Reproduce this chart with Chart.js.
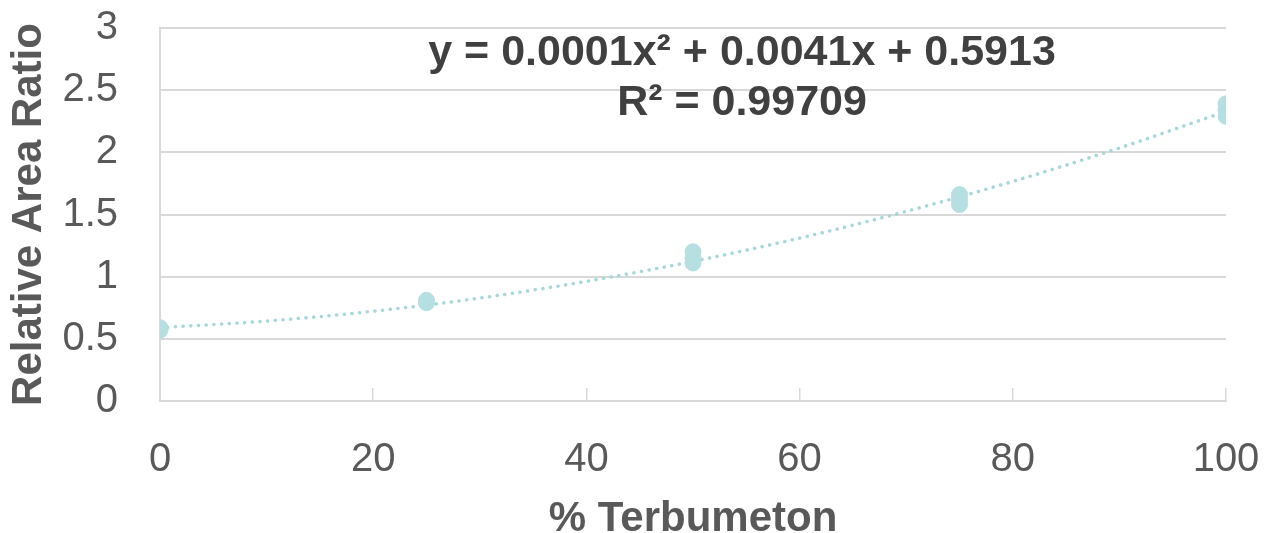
<!DOCTYPE html>
<html>
<head>
<meta charset="utf-8">
<title>Relative Area Ratio vs % Terbumeton</title>
<script src="https://cdn.jsdelivr.net/npm/chart.js@4/dist/chart.umd.min.js"></script>
<style>
  html, body { margin: 0; padding: 0; background: #fff; }
  #wrap { width: 1264px; height: 533px; }
</style>
</head>
<body>
<div id="wrap"><canvas id="calChart" width="1264" height="533"></canvas></div>
<script>
/* ─── DATA ─── */
// three replicate injections per calibration level
const levels = [0, 0, 0, 25, 25, 25, 50, 50, 50, 75, 75, 75, 100, 100, 100];
const ratios = [0.57, 0.58, 0.59, 0.79, 0.80, 0.81, 1.11, 1.15, 1.20, 1.58, 1.62, 1.66, 2.29, 2.34, 2.39];

// polynomial trendline as drawn
const trendX = [0, 10, 20, 30, 40, 50, 60, 70, 80, 90, 100];
const trendY = [0.59, 0.643, 0.722, 0.828, 0.962, 1.123, 1.310, 1.525, 1.766, 2.035, 2.33];

const xTicks = [0, 20, 40, 60, 80, 100];
const yTicks = [0, 0.5, 1, 1.5, 2, 2.5, 3];

const eqLines = ['y = 0.0001x² + 0.0041x + 0.5913', 'R² = 0.99709'];

/* ─── STYLE ─── */
const FONT = "'Liberation Sans', Arial, sans-serif";
const axisGrey = '#d9d9d9';
const labelGrey = '#595959';
const pointColor = '#b6dfe2';
const trendColor = '#a6d7db';

// equation label drawn inside the plot area
const equationLabel = {
  id: 'equationLabel',
  afterDraw(chart) {
    const ctx = chart.ctx;
    const xs = chart.scales.x;
    ctx.save();
    ctx.font = "bold 43px " + FONT;
    ctx.fillStyle = '#404040';
    ctx.textAlign = 'center';
    ctx.textBaseline = 'middle';
    const cx = xs.getPixelForValue(54.6);
    ctx.fillText(eqLines[0], cx, 53);
    ctx.fillText(eqLines[1], cx, 103);
    ctx.restore();
  }
};

const ctx = document.getElementById('calChart').getContext('2d');
new Chart(ctx, {
  type: 'scatter',
  data: {
    datasets: [
      {
        label: 'Replicates',
        data: levels.map((x, i) => ({ x: x, y: ratios[i] })),
        backgroundColor: pointColor,
        borderColor: pointColor,
        pointRadius: 8,
        pointHoverRadius: 8,
        order: 0
      },
      {
        label: 'Poly. trend',
        type: 'line',
        data: trendX.map((x, i) => ({ x: x, y: trendY[i] })),
        borderColor: trendColor,
        borderWidth: 3.5,
        borderDash: [0.1, 7.6],
        borderCapStyle: 'round',
        pointRadius: 0,
        cubicInterpolationMode: 'monotone',
        fill: false,
        order: 1
      }
    ]
  },
  options: {
    responsive: false,
    animation: false,
    layout: { padding: { top: 28, right: 38, left: 0, bottom: 0 } },
    plugins: {
      legend: { display: false },
      tooltip: { enabled: false }
    },
    scales: {
      x: {
        type: 'linear',
        min: 0, max: 100,
        afterBuildTicks: s => { s.ticks = xTicks.map(v => ({ value: v })); },
        afterFit: s => { s.height = 132; s.paddingLeft = 0; s.paddingRight = 0; },
        grid: { drawOnChartArea: false, drawTicks: true, tickLength: -13, color: axisGrey, lineWidth: 1.5 },
        border: { display: true, color: axisGrey, width: 2 },
        ticks: { color: labelGrey, font: { family: FONT, size: 40 }, padding: 48, maxRotation: 0 },
        title: { display: true, text: '% Terbumeton', color: labelGrey, font: { family: FONT, size: 42, weight: 'bold' }, padding: { top: -12, bottom: -12 } }
      },
      y: {
        min: 0, max: 3,
        afterBuildTicks: s => { s.ticks = yTicks.map(v => ({ value: v })); },
        afterFit: s => { s.width = 160; s.paddingTop = 0; s.paddingBottom = 0; },
        grid: { drawTicks: false, color: axisGrey, lineWidth: 2 },
        border: { display: true, color: axisGrey, width: 2 },
        ticks: { color: labelGrey, font: { family: FONT, size: 40 }, padding: 42, callback: v => String(v) },
        title: { display: true, text: 'Relative Area Ratio', color: labelGrey, font: { family: FONT, size: 42, weight: 'bold' }, padding: { top: 4, bottom: 0 } }
      }
    }
  },
  plugins: [equationLabel]
});
</script>
</body>
</html>
